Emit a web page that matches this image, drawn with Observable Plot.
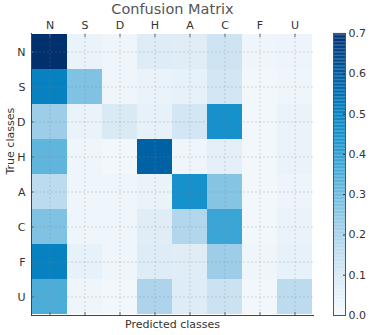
<!DOCTYPE html>
<html><head><meta charset="utf-8">
<script src="https://cdn.jsdelivr.net/npm/d3@7"></script>
<script src="https://cdn.jsdelivr.net/npm/@observablehq/plot@0.6"></script>
<style>
body{margin:0;background:#fff;font-family:"DejaVu Sans",sans-serif;}
#wrap{position:relative;width:371px;height:335px;}
#wrap svg{position:absolute;top:0;}
</style></head><body><div id="wrap"></div>
<script>
const classes = ["N","S","D","H","A","C","F","U"];
const rowN = [0.70,0.04,0.02,0.08,0.07,0.12,0.02,0.03];
const rowS = [0.50,0.27,0.02,0.04,0.05,0.11,0.01,0.02];
const rowD = [0.22,0.04,0.09,0.05,0.11,0.45,0.01,0.04];
const rowH = [0.32,0.02,0.01,0.58,0.02,0.06,0.01,0.04];
const rowA = [0.16,0.02,0.02,0.04,0.45,0.26,0.01,0.03];
const rowC = [0.27,0.02,0.02,0.07,0.18,0.38,0.01,0.04];
const rowF = [0.50,0.05,0.02,0.08,0.07,0.22,0.02,0.05];
const rowU = [0.35,0.02,0.01,0.19,0.08,0.13,0.01,0.16];
const rows = [rowN,rowS,rowD,rowH,rowA,rowC,rowF,rowU];
const cbTicks = [0,0.1,0.2,0.3,0.4,0.5,0.6,0.7];
const title = "Confusion Matrix";

const cells = [];
rows.forEach((r,i)=>r.forEach((v,j)=>cells.push({truth:classes[i],pred:classes[j],value:v})));

const colors = ["#f5f9fd","#d9e9f5","#aad2ea","#6ebbe0","#2c9fd3","#0083c3","#005a9f","#00306e"];
const colorScale = {type:"linear",domain:[0,0.7],interpolate:()=>d3.interpolateRgbBasis(colors),clamp:true};
const txt = "#333";
const font = "DejaVu Sans, sans-serif";

const main = Plot.plot({
  width:371,height:335,
  marginLeft:31,marginRight:58,marginTop:33,marginBottom:20,
  style:{fontFamily:font,fontSize:"11px",color:txt,background:"transparent"},
  x:{type:"band",domain:classes,padding:0,label:null,axis:null},
  y:{type:"band",domain:classes,padding:0,label:null,axis:null},
  color:colorScale,
  marks:[
    Plot.cell(cells,{x:"pred",y:"truth",fill:"value",inset:0}),
    Plot.gridX(classes,{stroke:"#888",strokeOpacity:0.3,strokeDasharray:"2,2"}),
    Plot.gridY(classes,{stroke:"#888",strokeOpacity:0.3,strokeDasharray:"2,2"}),
    Plot.axisX(classes,{anchor:"top",tickSize:0,tickPadding:5,fontSize:11,fill:txt}),
    Plot.axisX(classes,{anchor:"top",tickSize:-3,text:null,stroke:"#666"}),
    Plot.axisX(classes,{anchor:"bottom",tickSize:-3,text:null,stroke:"#666"}),
    Plot.axisY(classes,{anchor:"left",tickSize:0,tickPadding:6,fontSize:11,fill:txt}),
    Plot.axisY(classes,{anchor:"left",tickSize:-3,text:null,stroke:"#666"}),
    Plot.frame({anchor:"left",stroke:"#444"}),
    Plot.frame({anchor:"bottom",stroke:"#444"}),
    Plot.text([title],{frameAnchor:"top",dy:-30,fontSize:14.5,fill:"#555"}),
    Plot.text(["Predicted classes"],{frameAnchor:"bottom",dy:12,fontSize:11,fill:txt}),
    Plot.text(["True classes"],{frameAnchor:"left",dx:-21,rotate:-90,fontSize:11,fill:txt})
  ]
});
main.style.left="0px";

const step = 0.7/200;
const steps = d3.range(0,200).map(i=>i*step);
const cb = Plot.plot({
  width:51,height:335,
  marginLeft:13,marginRight:26,marginTop:33,marginBottom:20,
  style:{fontFamily:font,fontSize:"11px",color:txt,background:"transparent"},
  x:{axis:null},
  y:{domain:[0,0.7],axis:null},
  color:colorScale,
  marks:[
    Plot.rectY(steps,{y1:d=>d,y2:d=>d+step*1.05,fill:d=>d}),
    Plot.axisY(cbTicks,{anchor:"right",tickSize:-3,tickPadding:6,tickFormat:".1f",fontSize:11,fill:txt,stroke:"#333"}),
    Plot.frame({stroke:"#555"})
  ]
});
cb.style.left="320px";
document.getElementById("wrap").append(main,cb);
</script></body></html>
